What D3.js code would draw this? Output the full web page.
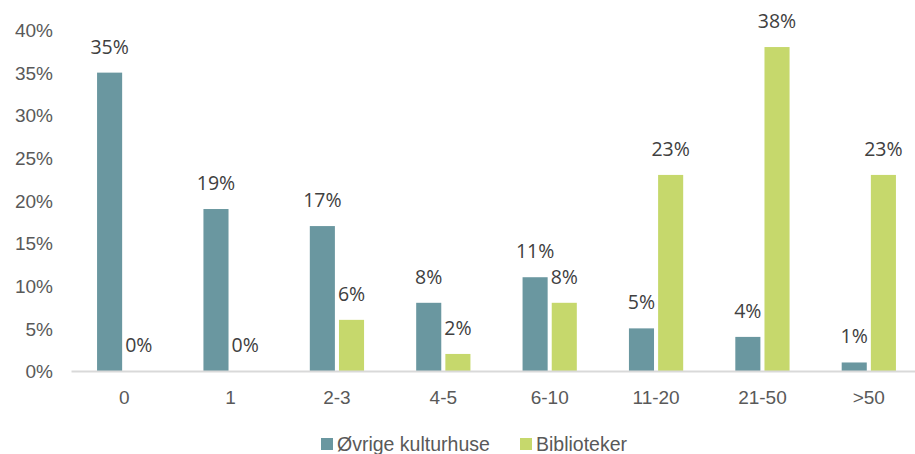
<!DOCTYPE html>
<html><head><meta charset="utf-8">
<script src="https://cdn.jsdelivr.net/npm/d3@7"></script>
<style>body{margin:0;background:#fff;}svg{display:block;}</style>
</head><body>
<svg id="c" width="915" height="454"></svg>
<script>
const categories = ["0","1","2-3","4-5","6-10","11-20","21-50",">50"];
const seriesNames = ["Øvrige kulturhuse","Biblioteker"];
const ovrige = [35,19,17,8,11,5,4,1];
const biblioteker = [0,0,6,2,8,23,38,23];
const yTicks = [0,5,10,15,20,25,30,35,40];
const colors = ["#6a97a0","#c6d86c"];

const svg = d3.select("#c");
const x0 = d3.scaleBand().domain(categories).range([71,922]).paddingInner(0.49).paddingOuter(0.245);
const x1 = d3.scaleBand().domain(seriesNames).range([0,x0.bandwidth()]).paddingInner(0.14).paddingOuter(0);
const y = d3.scaleLinear().domain([0,40]).range([371,30]);

// y axis labels
const yAxis = d3.axisLeft(y).tickValues(yTicks).tickFormat(d=>d+"%").tickSize(0).tickPadding(0);
const gy = svg.append("g").attr("transform","translate(53,0)").call(yAxis);
gy.select(".domain").remove();
gy.selectAll("text").attr("font-family","Liberation Sans, Arial, sans-serif").attr("font-size","19px").attr("fill","#595959").attr("dy","0.35em");

// bars
const data = [ovrige, biblioteker];
data.forEach((vals,si)=>{
  svg.append("g").selectAll("rect").data(vals).join("rect")
    .attr("x",(d,i)=>x0(categories[i])+x1(seriesNames[si]))
    .attr("y",d=>y(d))
    .attr("width",x1.bandwidth())
    .attr("height",d=>y(0)-y(d))
    .attr("fill",colors[si]);
  svg.append("g").selectAll("text").data(vals).join("text")
    .attr("x",(d,i)=>x0(categories[i])+x1(seriesNames[si])+x1.bandwidth()/2)
    .attr("y",d=>y(d)-19)
    .attr("text-anchor","middle")
    .attr("font-family","Open Sans, sans-serif").attr("font-size","19.5px").attr("fill","#404040")
    .text(d=>d+"%");
});

// x axis
const xAxis = d3.axisBottom(x0).tickSize(0).tickPadding(0);
const gx = svg.append("g").attr("transform","translate(0,371)").call(xAxis);
gx.select(".domain").attr("stroke","#d9d9d9").attr("stroke-width",2);
gx.selectAll("text").attr("font-family","Liberation Sans, Arial, sans-serif").attr("font-size","19px").attr("fill","#595959").attr("dy",0).attr("y",33);

// legend
const legX = [321,520];
seriesNames.forEach((n,i)=>{
  svg.append("rect").attr("x",legX[i]).attr("y",438).attr("width",12).attr("height",12).attr("fill",colors[i]);
  svg.append("text").attr("x",legX[i]+16).attr("y",451)
    .attr("font-family","Liberation Sans, Arial, sans-serif").attr("font-size","19.5px").attr("fill","#595959").text(n);
});
</script>
</body></html>
